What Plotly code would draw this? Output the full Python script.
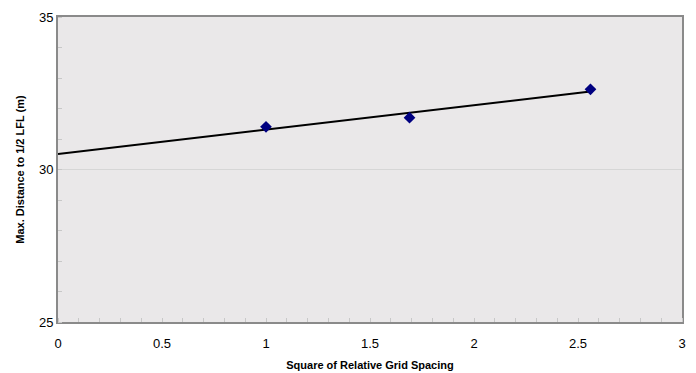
import numpy as np
import plotly.graph_objects as go

grid_spacing_sq = [1.0, 1.69, 2.56]
max_distance = [31.4, 31.7, 32.63]

x_ticks = [0, 0.5, 1, 1.5, 2, 2.5, 3]
x_tick_labels = ["0", "0.5", "1", "1.5", "2", "2.5", "3"]
y_ticks = [25, 30, 35]
y_tick_labels = ["25", "30", "35"]

# linear trendline from data, drawn from x=0 to last point
slope, intercept = np.polyfit(grid_spacing_sq, max_distance, 1)
trend_x = [0, grid_spacing_sq[-1]]
trend_y = [intercept + slope * v for v in trend_x]

fig = go.Figure()
fig.add_trace(go.Scatter(x=trend_x, y=trend_y, mode="lines",
                         line=dict(color="black", width=2), showlegend=False,
                         hoverinfo="skip"))
fig.add_trace(go.Scatter(x=grid_spacing_sq, y=max_distance, mode="markers",
                         marker=dict(symbol="diamond", size=9, color="#000080"),
                         showlegend=False))

font = "Liberation Sans, Arial, sans-serif"
fig.update_layout(
    width=696, height=373,
    margin=dict(l=58, r=14, t=17, b=51),
    paper_bgcolor="white",
    plot_bgcolor="#eae8e9",
    font=dict(family=font, color="black", size=13),
)
fig.update_xaxes(
    range=[0, 3], tickvals=x_ticks, ticktext=x_tick_labels,
    showgrid=False, zeroline=False, automargin=False,
    showline=True, linecolor="#8a8a8a", linewidth=2, mirror=True,
    ticks="", ticklen=0, ticklabelstandoff=8,
    minor=dict(dtick=0.1, ticks="inside", ticklen=4, tickcolor="#c8c8c8", showgrid=False),
    title=dict(text="<b>Square of Relative Grid Spacing</b>", font=dict(size=11, family=font), standoff=12),
    tickfont=dict(size=13),
)
fig.update_yaxes(
    range=[25, 35], tickvals=y_ticks, ticktext=y_tick_labels,
    showgrid=True, gridcolor="#d6d6d6", gridwidth=1, zeroline=False, automargin=False,
    showline=True, linecolor="#8a8a8a", linewidth=2, mirror=True,
    ticks="", ticklen=0,
    minor=dict(dtick=1, ticks="inside", ticklen=4, tickcolor="#c8c8c8", showgrid=False),
    title=dict(text="<b>Max. Distance to 1/2 LFL (m)</b>", font=dict(size=11, family=font), standoff=12),
    tickfont=dict(size=13),
)
fig.write_html("out.html")
